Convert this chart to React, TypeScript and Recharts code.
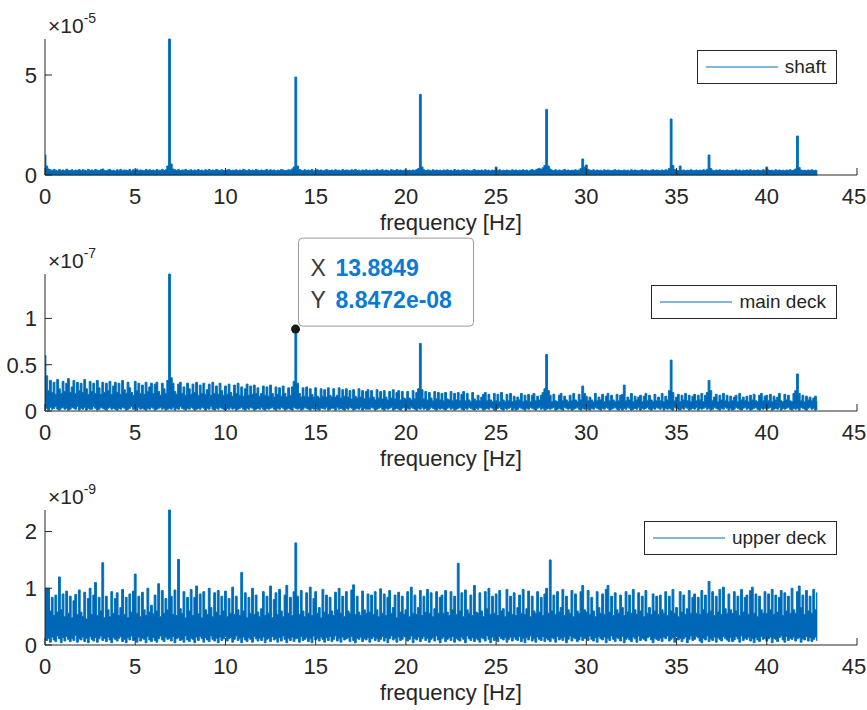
// Amplitude spectrum of the squared envelope: three stacked MATLAB-style panels.
// Each spectrum is dense (many FFT bins per pixel), so it is kept here as the
// per-0.1 Hz maximum and minimum and drawn as a filled band.

import React from "react";
import { ComposedChart, Area, XAxis, YAxis, Legend, ReferenceDot } from "recharts";

const FONT = '"Liberation Sans", Arial, Helvetica, sans-serif';
const BLUE = "#0072BD";
const BAND = "#0067B6";
const INK = "#262626";
const TICK_LEN = 7;

// frequency resolution of the arrays below (Hz per bin, starting at 0 Hz)
const STEP = 0.1;
const freqTicks = [0, 5, 10, 15, 20, 25, 30, 35, 40, 45];

// shaft: bin maxima, hundredths of 1e-5 (floor is at the axis)
const shaftPeak = [
  100, 45, 30, 26, 22, 28, 24, 20, 27, 23, 25, 21, 29, 24, 22, 26, 20, 25, 23, 27,
  22, 26, 24, 20, 28, 23, 25, 21, 27, 24, 22, 26, 30, 23, 21, 25, 27, 22, 24, 20,
  26, 23, 28, 21, 25, 24, 22, 27, 20, 26, 24, 29, 22, 25, 23, 21, 27, 24, 26, 22,
  25, 21, 27, 24, 23, 28, 22, 26, 45, 680, 55, 30, 26, 23, 27, 21, 25, 24, 28, 22,
  24, 26, 21, 25, 23, 27, 22, 24, 20, 26, 23, 28, 21, 25, 22, 27, 24, 21, 26, 23,
  22, 25, 27, 21, 24, 23, 26, 20, 25, 22, 28, 24, 21, 26, 23, 25, 22, 27, 24, 21,
  25, 22, 24, 27, 21, 26, 23, 25, 20, 24, 22, 27, 25, 21, 23, 26, 24, 30, 40, 490,
  45, 28, 24, 21, 26, 23, 25, 22, 27, 20, 24, 26, 22, 25, 21, 23, 27, 24, 22, 25,
  21, 26, 23, 24, 20, 27, 22, 25, 24, 21, 26, 23, 28, 22, 24, 20, 25, 23, 26, 22,
  24, 21, 25, 23, 27, 22, 24, 26, 21, 25, 23, 20, 26, 24, 22, 27, 23, 25, 21, 24,
  26, 22, 24, 21, 25, 23, 27, 32, 403, 40, 26, 22, 25, 24, 21, 26, 23, 25, 22, 24,
  21, 25, 23, 26, 22, 24, 20, 27, 23, 25, 21, 24, 26, 22, 25, 23, 20, 24, 27, 22,
  24, 22, 25, 21, 26, 23, 24, 20, 25, 22, 40, 23, 26, 21, 24, 22, 25, 23, 21, 26,
  22, 25, 21, 24, 23, 26, 22, 25, 20, 24, 27, 23, 25, 30, 33, 28, 36, 48, 328, 45,
  30, 24, 22, 26, 21, 25, 23, 24, 27, 22, 25, 21, 24, 23, 26, 22, 25, 32, 80, 40,
  50, 28, 24, 22, 26, 21, 25, 23, 24, 20, 26, 22, 25, 23, 21, 24, 26, 22, 25, 23,
  21, 25, 23, 24, 20, 26, 22, 25, 23, 21, 24, 26, 22, 25, 23, 20, 24, 26, 22, 25,
  23, 21, 25, 22, 26, 24, 33, 280, 48, 27, 24, 22, 45, 23, 25, 21, 24, 22, 26, 23,
  22, 25, 21, 24, 23, 26, 22, 28, 100, 32, 24, 21, 25, 23, 26, 22, 24, 21, 25, 23,
  21, 24, 22, 26, 23, 25, 20, 24, 22, 25, 23, 26, 21, 24, 22, 25, 23, 21, 26, 24,
  40, 25, 22, 24, 21, 26, 23, 25, 22, 24, 21, 25, 23, 26, 22, 24, 30, 195, 38, 25,
  22, 24, 21, 25, 23, 26, 22, 24, 21,
];

// main deck: bin maxima and minima, hundredths of 1e-7
const mainDeckPeak = [
  60, 38, 22, 33, 20, 31, 18, 34, 24, 19, 32, 21, 30, 35, 20, 26, 33, 19, 31, 22,
  30, 20, 34, 24, 18, 32, 21, 30, 19, 33, 25, 18, 31, 20, 30, 22, 32, 18, 27, 31,
  20, 30, 18, 33, 23, 19, 31, 25, 20, 17, 32, 22, 30, 19, 28, 18, 31, 21, 26, 30,
  19, 29, 31, 21, 17, 30, 24, 19, 33, 148, 36, 30, 21, 18, 29, 31, 19, 26, 17, 30,
  24, 18, 29, 20, 31, 17, 28, 19, 30, 18, 23, 29, 17, 31, 19, 27, 18, 30, 22, 17,
  27, 18, 29, 20, 16, 28, 19, 30, 17, 26, 16, 24, 29, 17, 27, 18, 28, 19, 25, 16,
  19, 27, 17, 26, 16, 28, 19, 15, 26, 18, 25, 16, 27, 19, 15, 25, 17, 26, 32, 88,
  30, 19, 15, 25, 16, 26, 15, 24, 18, 15, 25, 16, 14, 24, 16, 23, 15, 25, 17, 15,
  24, 15, 17, 25, 14, 23, 16, 24, 15, 22, 13, 23, 16, 14, 24, 15, 22, 13, 21, 23,
  14, 22, 15, 12, 23, 14, 21, 13, 22, 15, 12, 21, 14, 23, 13, 20, 22, 12, 21, 14,
  13, 21, 14, 12, 22, 13, 20, 24, 73, 23, 13, 21, 12, 20, 14, 11, 21, 13, 20, 12,
  19, 11, 20, 13, 12, 21, 11, 19, 12, 20, 11, 18, 21, 11, 19, 12, 10, 20, 13, 11,
  17, 11, 15, 18, 20, 11, 18, 12, 10, 19, 11, 18, 10, 20, 12, 10, 18, 11, 19, 10,
  16, 11, 15, 12, 19, 10, 17, 11, 18, 10, 17, 19, 11, 16, 12, 17, 20, 24, 61, 22,
  17, 10, 18, 11, 10, 17, 19, 11, 16, 12, 10, 17, 11, 19, 12, 10, 18, 12, 27, 19,
  16, 11, 15, 12, 10, 19, 11, 15, 12, 18, 10, 16, 19, 11, 17, 12, 10, 18, 11, 17,
  18, 28, 11, 15, 12, 19, 10, 16, 12, 15, 17, 10, 16, 19, 11, 17, 12, 10, 18, 11,
  15, 11, 19, 10, 16, 12, 22, 55, 20, 11, 15, 18, 10, 17, 12, 19, 11, 17, 10, 16,
  18, 11, 17, 12, 19, 10, 17, 20, 33, 22, 11, 15, 18, 10, 17, 12, 19, 11, 17, 10,
  16, 11, 15, 17, 10, 19, 12, 15, 11, 16, 10, 17, 12, 18, 11, 10, 17, 19, 11, 16,
  17, 11, 18, 10, 16, 12, 15, 19, 11, 10, 18, 12, 17, 11, 10, 19, 22, 40, 19, 11,
  17, 10, 16, 12, 15, 11, 14, 16, 10,
];
const mainDeckFloor = [
  2, 3, 1, 4, 2, 3, 5, 2, 1, 3, 4, 2, 3, 1, 2, 4, 3, 2, 5, 1,
  3, 2, 4, 1, 3, 2, 2, 5, 3, 1, 2, 4, 3, 2, 1, 3, 4, 2, 3, 2,
  1, 3, 2, 4, 3, 1, 2, 3, 5, 2, 3, 1, 4, 2, 3, 2, 1, 3, 2, 4,
  3, 1, 2, 3, 4, 2, 3, 1, 2, 3, 2, 4, 1, 3, 2, 5, 3, 2, 1, 3,
  2, 4, 3, 1, 2, 3, 2, 4, 3, 1, 3, 2, 5, 2, 1, 3, 2, 4, 3, 2,
  1, 3, 2, 4, 2, 3, 1, 2, 3, 4, 2, 1, 3, 2, 4, 3, 1, 2, 3, 2,
  4, 2, 1, 3, 2, 3, 4, 2, 1, 3, 2, 4, 3, 1, 2, 3, 2, 1, 4, 3,
  2, 3, 1, 2, 4, 3, 2, 1, 3, 2, 4, 2, 1, 3, 3, 2, 4, 1, 2, 3,
  3, 1, 4, 2, 3, 2, 1, 3, 2, 4, 3, 1, 2, 3, 2, 4, 1, 3, 2, 2,
  2, 4, 3, 1, 2, 3, 4, 2, 1, 3, 2, 3, 4, 1, 2, 3, 2, 1, 3, 4,
  1, 3, 2, 4, 3, 2, 1, 3, 2, 4, 2, 3, 1, 2, 4, 3, 2, 1, 3, 2,
  3, 2, 1, 3, 4, 2, 3, 1, 2, 3, 4, 2, 1, 3, 2, 4, 3, 2, 1, 3,
  2, 4, 3, 1, 2, 3, 2, 4, 3, 1, 2, 3, 4, 2, 1, 3, 2, 3, 4, 1,
  3, 1, 2, 4, 3, 2, 1, 3, 2, 4, 3, 2, 1, 3, 4, 2, 3, 1, 2, 3,
  2, 3, 4, 1, 2, 3, 2, 1, 4, 3, 2, 3, 1, 2, 3, 4, 2, 1, 3, 2,
  4, 2, 1, 3, 2, 4, 3, 2, 1, 3, 2, 4, 3, 1, 2, 3, 4, 2, 1, 3,
  1, 3, 2, 4, 3, 1, 2, 3, 2, 4, 1, 3, 2, 3, 4, 2, 1, 3, 2, 4,
  3, 2, 4, 1, 3, 2, 3, 2, 1, 4, 3, 2, 1, 3, 2, 4, 3, 1, 2, 3,
  2, 4, 1, 3, 2, 3, 4, 2, 3, 1, 2, 4, 3, 2, 1, 3, 2, 4, 3, 1,
  3, 1, 2, 4, 3, 2, 1, 3, 4, 2, 3, 1, 2, 3, 4, 2, 1, 3, 2, 3,
  2, 3, 4, 1, 2, 3, 2, 4, 1, 3, 2, 3, 4, 2, 1, 3, 2, 3, 1, 4,
  3, 2, 1, 3, 4, 2, 3, 1, 2,
];

// upper deck: bin maxima and minima, hundredths of 1e-9
const upperDeckPeak = [
  100, 100, 100, 60, 84, 52, 88, 58, 120, 62, 90, 50, 95, 56, 86, 48, 78, 89, 54, 97,
  58, 50, 93, 46, 82, 100, 54, 88, 110, 52, 84, 60, 145, 48, 86, 62, 50, 94, 56, 82,
  92, 52, 66, 98, 54, 84, 48, 90, 58, 95, 125, 56, 86, 50, 93, 62, 52, 100, 58, 70,
  55, 88, 60, 108, 50, 96, 56, 82, 62, 238, 86, 54, 97, 52, 151, 64, 56, 94, 48, 84,
  60, 98, 52, 84, 104, 55, 90, 48, 94, 62, 54, 100, 66, 50, 92, 58, 96, 52, 86, 60,
  95, 50, 82, 56, 102, 54, 86, 62, 52, 128, 60, 92, 48, 84, 56, 100, 54, 88, 58, 50,
  64, 94, 52, 86, 56, 104, 48, 80, 92, 54, 98, 60, 50, 88, 105, 56, 84, 52, 94, 180,
  86, 54, 96, 60, 50, 92, 56, 102, 52, 82, 94, 56, 66, 48, 98, 58, 88, 54, 84, 60,
  52, 93, 62, 100, 56, 86, 50, 94, 60, 56, 97, 106, 54, 86, 58, 52, 95, 62, 56, 90,
  58, 88, 54, 94, 62, 50, 99, 56, 90, 52, 84, 96, 56, 66, 88, 48, 93, 58, 86, 54,
  62, 94, 50, 102, 56, 88, 54, 66, 96, 52, 86, 58, 98, 56, 92, 50, 64, 94, 56, 84,
  88, 56, 96, 58, 52, 94, 62, 86, 54, 144, 60, 92, 50, 97, 62, 56, 88, 52, 105, 58,
  56, 92, 60, 50, 94, 64, 100, 54, 86, 56, 90, 52, 96, 60, 64, 50, 98, 58, 86, 54,
  92, 52, 66, 88, 56, 98, 54, 64, 95, 50, 86, 60, 56, 94, 58, 84, 52, 90, 100, 56,
  150, 60, 88, 54, 94, 58, 66, 98, 52, 86, 62, 56, 96, 50, 90, 60, 56, 94, 105, 62,
  58, 96, 54, 84, 60, 50, 94, 66, 56, 90, 54, 98, 105, 58, 86, 52, 92, 62, 56, 88,
  66, 52, 94, 58, 88, 56, 98, 62, 54, 92, 60, 86, 50, 96, 56, 66, 54, 90, 60, 86,
  54, 88, 62, 56, 94, 52, 86, 60, 98, 56, 66, 50, 94, 58, 88, 54, 64, 96, 56, 84,
  90, 56, 84, 54, 96, 62, 88, 56, 112, 60, 94, 52, 86, 58, 98, 54, 102, 64, 56, 90,
  62, 56, 94, 60, 86, 52, 98, 58, 84, 88, 54, 96, 102, 56, 90, 50, 86, 62, 56, 94,
  56, 90, 62, 98, 54, 88, 58, 84, 96, 52, 92, 60, 86, 56, 100, 62, 56, 94, 104, 66,
  88, 54, 96, 60, 86, 56, 98, 62, 92,
];
const upperDeckFloor = [
  10, 8, 12, 5, 14, 9, 6, 16, 11, 4, 13, 7, 15, 10, 6, 12, 8, 17, 5, 11,
  9, 14, 6, 12, 4, 15, 10, 7, 13, 5, 11, 16, 8, 12, 6, 14, 9, 4, 13, 10,
  7, 12, 15, 6, 10, 4, 13, 9, 16, 8, 11, 5, 14, 7, 12, 10, 4, 15, 9, 6,
  13, 8, 5, 11, 16, 9, 6, 14, 10, 12, 7, 15, 4, 11, 13, 8, 10, 5, 16, 9,
  6, 12, 10, 4, 14, 8, 15, 11, 5, 13, 9, 6, 16, 10, 7, 12, 4, 14, 8, 11,
  15, 7, 11, 13, 5, 10, 16, 8, 12, 4, 14, 9, 6, 13, 10, 5, 15, 11, 7, 12,
  8, 14, 4, 10, 12, 6, 15, 9, 11, 5, 13, 7, 16, 10, 4, 12, 8, 14, 6, 11,
  12, 5, 15, 8, 10, 13, 6, 11, 4, 16, 9, 12, 7, 14, 10, 5, 13, 8, 15, 6,
  10, 16, 7, 12, 5, 14, 9, 11, 13, 6, 15, 8, 4, 12, 10, 14, 6, 11, 9, 13,
  5, 11, 14, 8, 12, 6, 10, 15, 7, 13, 4, 11, 16, 9, 12, 5, 14, 8, 10, 15,
  13, 7, 10, 16, 4, 12, 9, 14, 6, 11, 15, 8, 12, 5, 10, 13, 7, 16, 9, 4,
  11, 14, 6, 10, 13, 8, 15, 5, 12, 9, 7, 14, 10, 4, 16, 11, 8, 13, 6, 12,
  9, 5, 13, 11, 7, 16, 10, 4, 14, 8, 12, 6, 15, 11, 9, 13, 5, 10, 14, 7,
  14, 10, 8, 15, 6, 12, 4, 13, 9, 16, 7, 11, 5, 14, 10, 8, 15, 6, 12, 9,
  6, 13, 11, 5, 15, 9, 12, 8, 14, 4, 10, 16, 7, 13, 11, 6, 9, 15, 8, 12,
  12, 8, 16, 10, 7, 13, 5, 15, 11, 9, 14, 4, 12, 8, 16, 10, 6, 13, 11, 7,
  15, 4, 10, 13, 9, 6, 14, 11, 5, 16, 8, 12, 10, 7, 13, 15, 9, 4, 12, 10,
  8, 12, 6, 14, 11, 16, 7, 10, 13, 5, 15, 9, 12, 6, 11, 14, 4, 10, 16, 8,
  10, 15, 13, 7, 4, 12, 9, 16, 6, 11, 8, 14, 5, 13, 10, 7, 15, 12, 9, 6,
  13, 6, 9, 15, 11, 5, 16, 8, 12, 10, 14, 7, 11, 4, 13, 9, 6, 15, 10, 12,
  7, 11, 14, 4, 12, 10, 6, 13, 16, 9, 5, 15, 8, 12, 10, 14, 7, 11, 13, 5,
  11, 9, 15, 7, 13, 6, 10, 14, 8,
];

// data tip shown on the main deck panel
const tipFreq = 13.8849;
const tipAmp = 8.8472e-8;

function matlabExp(v: number): string {
  const [m, e] = v.toExponential(4).split("e");
  const n = Math.abs(Number(e));
  return `${m}e${Number(e) < 0 ? "-" : "+"}${n < 10 ? "0" + n : n}`;
}

function toRows(peak: number[], floor?: number[]) {
  return peak.map((v, i) => ({
    f: Math.round(i * STEP * 10) / 10,
    band: [floor ? floor[i] / 100 : 0, v / 100],
  }));
}

// ─── ticks (MATLAB draws them inward, on all four sides) ─────────────────────

function BottomTick({ x, y, payload }: any) {
  // keep the last label inside the 867px frame
  const tx = Math.min(x, 867 - 13);
  return (
    <g>
      <line x1={x} x2={x} y1={y - 29} y2={y - 29 - TICK_LEN} stroke={INK} />
      <text x={tx} y={y} textAnchor="middle" fill={INK} fontSize={22} fontFamily={FONT}>
        {payload.value}
      </text>
    </g>
  );
}

function LeftTick({ x, y, payload }: any) {
  return (
    <g>
      <line x1={x + 8} x2={x + 8 + TICK_LEN} y1={y} y2={y} stroke={INK} />
      <text x={x} y={y} dy="0.36em" textAnchor="end" fill={INK} fontSize={22} fontFamily={FONT}>
        {payload.value}
      </text>
    </g>
  );
}

function TopTick({ x, y }: any) {
  return <line x1={x} x2={x} y1={y} y2={y + TICK_LEN} stroke={INK} />;
}

function RightTick({ x, y }: any) {
  return <line x1={x} x2={x - TICK_LEN} y1={y} y2={y} stroke={INK} />;
}

function BoxLegend({ payload }: any) {
  const item = payload?.[0];
  return (
    <div
      style={{
        display: "flex",
        alignItems: "center",
        height: 32,
        border: `1px solid ${INK}`,
        background: "#fff",
        padding: "0 10px 0 8px",
        fontFamily: FONT,
        fontSize: 19,
        color: INK,
        whiteSpace: "nowrap",
      }}
    >
      <svg width={72} height={4} style={{ marginRight: 7 }}>
        <line x1={0} x2={72} y1={2} y2={2} stroke={BLUE} strokeWidth={1.2} />
      </svg>
      <span>{item?.value}</span>
    </div>
  );
}

function DataTip({ cx, cy }: any) {
  const bx = cx + 3;
  const by = cy - 3 - 88;
  return (
    <g fontFamily={FONT} fontSize={23}>
      <rect x={bx} y={by} width={175} height={88} rx={4} fill="#fff" fillOpacity={0.96} stroke="#9a9a9a" />
      <text x={bx + 12} y={by + 38} fill="#3a3a3a">X</text>
      <text x={bx + 37} y={by + 38} fill="#0a7ad6" fontWeight="bold">{tipFreq}</text>
      <text x={bx + 12} y={by + 70} fill="#3a3a3a">Y</text>
      <text x={bx + 37} y={by + 70} fill="#0a7ad6" fontWeight="bold">{matlabExp(tipAmp)}</text>
      <circle cx={cx} cy={cy} r={4.5} fill="#1a1a1a" />
    </g>
  );
}

interface PanelProps {
  top: number;
  name: string;
  peak: number[];
  floor?: number[];
  yMax: number;
  yTicks: number[];
  exponent: string;
  plotTop: number;
  axisHeight: number;
  title?: string;
  tip?: boolean;
}

const CHART_H = 240;

function Panel({ top, name, peak, floor, yMax, yTicks, exponent, plotTop, axisHeight, title, tip }: PanelProps) {
  const data = toRows(peak, floor);
  return (
    <div style={{ position: "absolute", left: 0, top, width: 867, height: CHART_H }}>
      <ComposedChart width={867} height={CHART_H} data={data} margin={{ top: plotTop, right: 10, bottom: 0, left: 5 }}>
        <XAxis
          dataKey="f"
          type="number"
          domain={[0, 45]}
          ticks={freqTicks}
          height={axisHeight}
          tickSize={0}
          tickMargin={29}
          tickLine={false}
          tick={<BottomTick />}
          axisLine={{ stroke: INK }}
          interval={0}
          label={{ value: "frequency [Hz]", position: "insideBottom", offset: axisHeight - 55, fill: INK, fontSize: 22, fontFamily: FONT }}
        />
        <XAxis
          xAxisId="top"
          orientation="top"
          type="number"
          domain={[0, 45]}
          ticks={freqTicks}
          height={0}
          tickSize={0}
          tickMargin={0}
          tickLine={false}
          tick={<TopTick />}
          axisLine={{ stroke: INK }}
          interval={0}
          label={
            title
              ? (p: any) => (
                  <text
                    x={p.viewBox.x + p.viewBox.width / 2}
                    y={p.viewBox.y - 9}
                    textAnchor="middle"
                    fontWeight="bold"
                    fontSize={23}
                    fontFamily={FONT}
                    fill="#000"
                  >
                    {title}
                  </text>
                )
              : undefined
          }
        />
        <YAxis
          type="number"
          domain={[0, yMax]}
          ticks={yTicks}
          width={40}
          tickSize={0}
          tickMargin={8}
          tickLine={false}
          tick={<LeftTick />}
          axisLine={{ stroke: INK }}
          interval={0}
          label={(p: any) => (
            <text x={p.viewBox.x + p.viewBox.width + 3} y={p.viewBox.y - 6} fill={INK} fontFamily={FONT} fontSize={21}>
              ×10
              <tspan dy={-10} fontSize={14}>{exponent}</tspan>
            </text>
          )}
        />
        <YAxis
          yAxisId="right"
          orientation="right"
          type="number"
          domain={[0, yMax]}
          ticks={yTicks}
          width={0}
          tickSize={0}
          tickMargin={0}
          tickLine={false}
          tick={<RightTick />}
          axisLine={{ stroke: INK }}
          interval={0}
        />
        <Area
          type="step"
          dataKey="band"
          name={name}
          stroke={BLUE}
          strokeWidth={1}
          fill={BAND}
          fillOpacity={1}
          dot={false}
          activeDot={false}
          isAnimationActive={false}
        />
        <Legend
          layout="vertical"
          align="center"
          verticalAlign="middle"
          wrapperStyle={{ top: plotTop + 11, right: 30 }}
          content={<BoxLegend />}
        />
        {tip && <ReferenceDot x={tipFreq} y={tipAmp / 1e-7} r={4} shape={<DataTip />} ifOverflow="visible" />}
      </ComposedChart>
    </div>
  );
}

export default function App() {
  return (
    <div style={{ position: "absolute", left: 0, top: 0, width: 867, height: 710, background: "#fff" }}>
      <Panel
        top={0}
        name="shaft"
        peak={shaftPeak}
        yMax={6.8}
        yTicks={[0, 5]}
        exponent="-5"
        plotTop={39}
        axisHeight={65}
        title="Amplitude spectrum of the squared envelope"
      />
      <Panel
        top={235}
        name="main deck"
        peak={mainDeckPeak}
        floor={mainDeckFloor}
        yMax={1.48}
        yTicks={[0, 0.5, 1]}
        exponent="-7"
        plotTop={39}
        axisHeight={64}
        tip
      />
      <Panel
        top={470}
        name="upper deck"
        peak={upperDeckPeak}
        floor={upperDeckFloor}
        yMax={2.38}
        yTicks={[0, 1, 2]}
        exponent="-9"
        plotTop={40}
        axisHeight={65}
      />
    </div>
  );
}
